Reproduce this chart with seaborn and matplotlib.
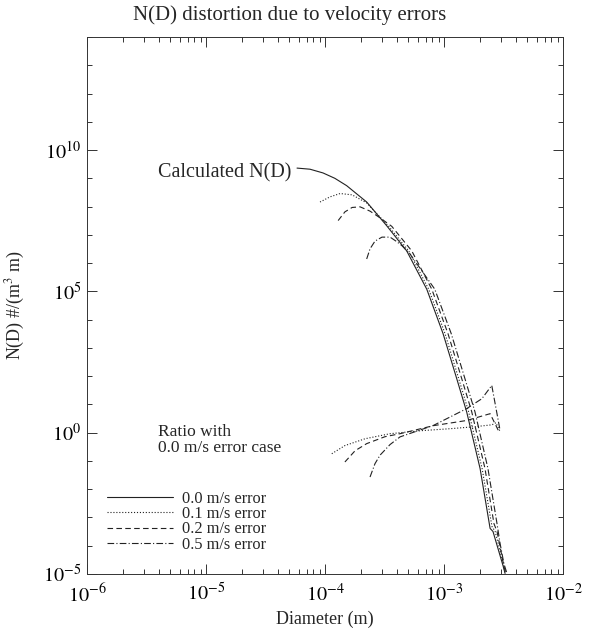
import numpy as np
import pandas as pd
import matplotlib
matplotlib.use("Agg")
import matplotlib.pyplot as plt
import matplotlib.ticker as mticker
import seaborn as sns

# ---------------- data ----------------
# N(D) curves, diameter in m, N in #/(m^3 m)
d_00 = [5.82e-5, 7.48e-5, 9.62e-5, 1.21e-4, 1.52e-4, 2.24e-4, 3.30e-4, 4.86e-4,
        7.16e-4, 9.82e-4, 1.28e-3, 1.55e-3, 2.01e-3, 2.44e-3, 2.58e-3, 3.13e-3, 3.26e-3]
n_00 = [2.3e9, 2.1e9, 1.55e9, 1.0e9, 5.5e8, 1.45e8, 2.1e7, 2.7e6,
        1.2e5, 3.2e3, 81, 5.5, 0.054, 4.1e-4, 3.2e-4, 2.0e-5, 1.05e-5]

d_01 = [9.08e-5, 1.10e-4, 1.34e-4, 1.69e-4, 2.24e-4, 3.43e-4, 5.05e-4, 7.43e-4,
        1.02e-3, 1.33e-3, 1.61e-3, 2.09e-3, 2.53e-3, 2.69e-3, 3.19e-3, 3.26e-3]
n_01 = [1.45e8, 2.2e8, 2.9e8, 2.6e8, 1.35e8, 2.0e7, 2.7e6, 1.2e5,
        3.2e3, 81, 5.5, 0.054, 4.8e-4, 3.2e-4, 1.85e-5, 1.05e-5]

d_02 = [1.29e-4, 1.47e-4, 1.69e-4, 1.97e-4, 2.39e-4, 2.90e-4, 3.64e-4, 5.36e-4,
        7.89e-4, 1.08e-3, 1.41e-3, 1.71e-3, 2.21e-3, 2.63e-3, 2.79e-3, 3.19e-3, 3.32e-3]
n_02 = [3.2e7, 6.5e7, 9.3e7, 9.8e7, 6.9e7, 4.0e7, 2.0e7, 2.7e6,
        1.2e5, 3.2e3, 81, 5.5, 0.054, 6.0e-4, 3.2e-4, 1.85e-5, 1.05e-5]

d_05 = [2.24e-4, 2.39e-4, 2.63e-4, 3.01e-4, 3.52e-4, 3.95e-4, 4.44e-4, 5.18e-4,
        8.36e-4, 1.15e-3, 1.50e-3, 1.82e-3, 2.34e-3, 2.79e-3, 2.96e-3, 3.19e-3, 3.38e-3]
n_05 = [1.4e6, 3.2e6, 6.0e6, 8.3e6, 8.3e6, 6.0e6, 4.1e6, 2.1e6,
        1.2e5, 3.2e3, 81, 5.5, 0.054, 6.0e-4, 1.2e-4, 2.3e-5, 1.05e-5]

# Ratio with 0.0 m/s error case
rd_01 = [1.14e-4, 1.47e-4, 2.17e-4, 3.52e-4, 6.28e-4, 1.12e-3, 1.82e-3, 2.53e-3, 2.73e-3, 2.96e-3]
rr_01 = [0.18, 0.35, 0.61, 0.92, 1.17, 1.38, 1.63, 1.9, 2.25, 1.1]

rd_02 = [1.47e-4, 1.79e-4, 2.24e-4, 3.19e-4, 4.27e-4, 8.13e-4, 1.55e-3, 2.44e-3, 2.86e-3]
rr_02 = [0.092, 0.23, 0.41, 0.72, 0.92, 1.77, 2.7, 4.7, 1.2]

rd_05 = [2.39e-4, 2.63e-4, 2.90e-4, 3.52e-4, 4.27e-4, 8.13e-4, 1.55e-3, 2.08e-3, 2.52e-3, 2.96e-3]
rr_05 = [0.027, 0.080, 0.16, 0.38, 0.71, 1.8, 7.1, 15.9, 47, 1.2]

series_labels = ["0.0 m/s error", "0.1 m/s error", "0.2 m/s error", "0.5 m/s error"]

xtick_values = [1e-6, 1e-5, 1e-4, 1e-3, 1e-2]
xtick_labels = ["$10^{-6}$", "$10^{-5}$", "$10^{-4}$", "$10^{-3}$", "$10^{-2}$"]
ytick_values = [1e-5, 1e0, 1e5, 1e10]
ytick_labels = ["$10^{-5}$", "$10^{0}$", "$10^{5}$", "$10^{10}$"]

# ---------------- styling ----------------
sns.set_style("ticks")
plt.rcParams["font.family"] = ["Liberation Serif", "DejaVu Serif"]
plt.rcParams["mathtext.fontset"] = "stix"

fig = plt.figure(figsize=(6.10, 6.28), dpi=100)
ax = fig.add_axes([87 / 610, 1 - 574 / 628, (563 - 87) / 610, (574 - 37) / 628])
ax.set_xscale("log")
ax.set_yscale("log")

lc = "#222222"
lw = 0.8
styles = ["-", ":", (0, (5, 3)), (0, (6, 2, 1, 2))]

curves = [(d_00, n_00), (d_01, n_01), (d_02, n_02), (d_05, n_05)]
for (d, n), ls, lab in zip(curves, styles, series_labels):
    df = pd.DataFrame({"D": d, "N": n})
    sns.lineplot(data=df, x="D", y="N", ax=ax, color=lc, lw=lw, linestyle=ls,
                 sort=False, estimator=None, label=lab)

ratios = [(rd_01, rr_01), (rd_02, rr_02), (rd_05, rr_05)]
for (d, r), ls in zip(ratios, styles[1:]):
    df = pd.DataFrame({"D": d, "R": r})
    sns.lineplot(data=df, x="D", y="R", ax=ax, color=lc, lw=lw, linestyle=ls,
                 sort=False, estimator=None, legend=False)

ax.set_xlim(1e-6, 1e-2)
ax.set_ylim(1e-5, 1e14)

ax.xaxis.set_major_locator(mticker.FixedLocator(xtick_values))
ax.xaxis.set_major_formatter(mticker.FixedFormatter(xtick_labels))
ax.xaxis.set_minor_locator(mticker.LogLocator(base=10, subs=np.arange(2, 10), numticks=20))
ax.xaxis.set_minor_formatter(mticker.NullFormatter())

ax.yaxis.set_major_locator(mticker.FixedLocator(ytick_values))
ax.yaxis.set_major_formatter(mticker.FixedFormatter(ytick_labels))
ax.yaxis.set_minor_locator(mticker.LogLocator(base=10, subs=[1.0], numticks=40))
ax.yaxis.set_minor_formatter(mticker.NullFormatter())

ax.tick_params(which="both", direction="in", top=True, right=True, colors="#333333",
               labelcolor="black", labelsize=14.5, width=0.7)
ax.tick_params(which="major", length=7)
ax.tick_params(which="minor", length=3.5)
ax.tick_params(axis="x", pad=7)
ax.tick_params(axis="y", pad=4)
for s in ax.spines.values():
    s.set_linewidth(0.7)
    s.set_color("#333333")

ax.set_xlabel("Diameter (m)", fontsize=13)
ax.set_ylabel("N(D) #/(m$^3$ m)", fontsize=13)
ax.xaxis.set_label_coords(0.5, -0.068)
ax.yaxis.set_label_coords((27 - 87) / 476, 0.5)

fig.text(290 / 610, 1 - 15 / 628, "N(D) distortion due to velocity errors",
         ha="center", va="center", fontsize=15)

ax.text(158 / 610, 1 - 173 / 628, "Calculated N(D)", transform=fig.transFigure,
        ha="left", va="center", fontsize=14.5)
ax.text(158 / 610, 1 - 440 / 628, "Ratio with\n0.0 m/s error case",
        transform=fig.transFigure, ha="left", va="center", fontsize=12.5, linespacing=1.0)

leg = ax.legend(loc="upper left", bbox_to_anchor=(107 / 610, 1 - 491 / 628),
                bbox_transform=fig.transFigure, frameon=False, fontsize=11.8,
                handlelength=4.0, handletextpad=0.6, labelspacing=-0.05,
                borderpad=0, borderaxespad=0)

fig.savefig("out.png", dpi=100)
